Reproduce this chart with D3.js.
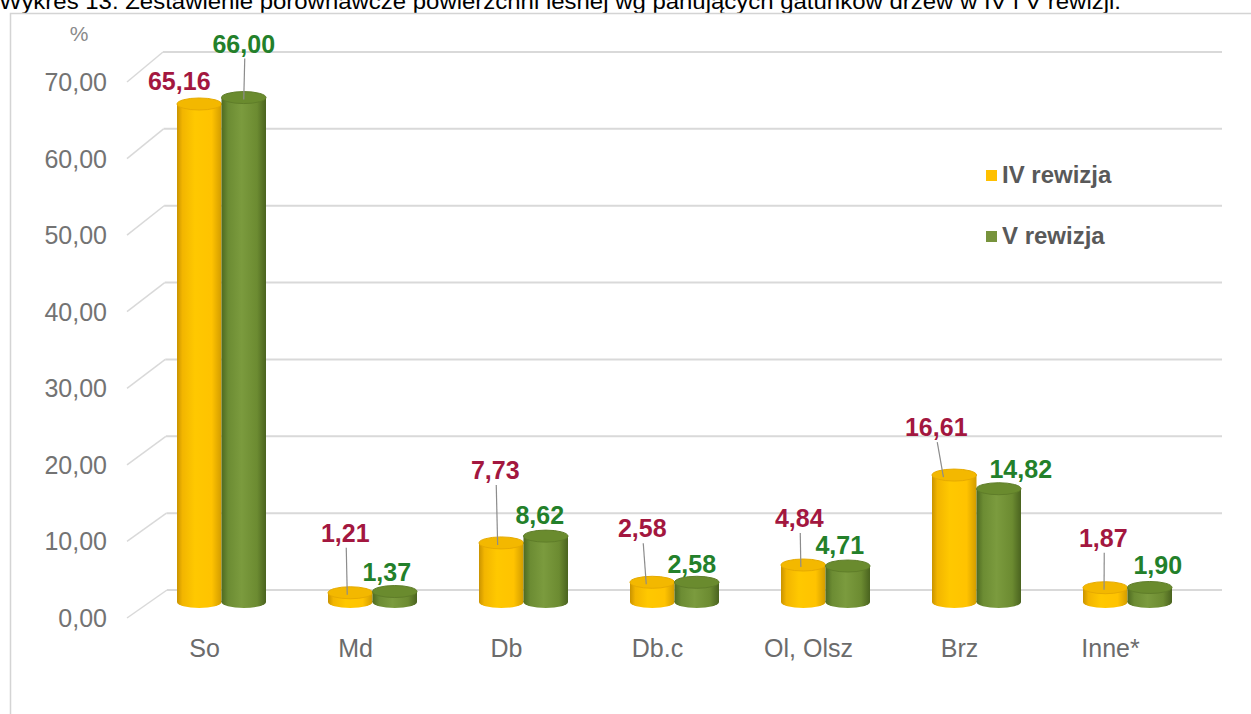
<!DOCTYPE html>
<html>
<head>
<meta charset="utf-8">
<script src="https://cdn.jsdelivr.net/npm/d3@7"></script>
<style>
  html, body { margin: 0; padding: 0; background: #fff; }
  svg { display: block; }
</style>
</head>
<body>
<div id="chart"></div>
<script>
// chart values
const categories = ["So", "Md", "Db", "Db.c", "Ol, Olsz", "Brz", "Inne*"];
const seriesNames = ["IV rewizja", "V rewizja"];
const rewizjaIV = [65.16, 1.21, 7.73, 2.58, 4.84, 16.61, 1.87];
const rewizjaV = [66.00, 1.37, 8.62, 2.58, 4.71, 14.82, 1.90];
const yTicks = [0, 10, 20, 30, 40, 50, 60, 70];
const title = "Wykres 13. Zestawienie porównawcze powierzchni leśnej wg panujących gatunków drzew w IV i V rewizji.";

// hand placed data labels (offset from the bar top, and whether a leader line is drawn)
const labelNudge = [
    [[-20, -23, false], [0, -54, true]],
    [[-5, -60, true], [-8, -20, false]],
    [[-6, -73, true], [-6, -21, false]],
    [[-10, -54, true], [-5, -18, false]],
    [[-4, -47, true], [-8, -21, false]],
    [[-18, -48, true], [22, -20, false]],
    [[-2, -50, true], [8, -22, false]]
];

const width = 1251, height = 714;
const font = "'Liberation Sans', Arial, Helvetica, sans-serif";
const barColors = ["#FFC000", "#77933C"];
const labelColors = ["#A3173F", "#23802A"];

const locale = d3.formatLocale({ decimal: ",", thousands: " ", grouping: [3], currency: ["", ""] });
const fmt = locale.format(".2f");

const svg = d3.select("#chart").append("svg")
    .attr("width", width)
    .attr("height", height)
    .attr("font-family", font);

// gradients for the cylinders
const defs = svg.append("defs");
const gradStops = [
    [["0%", "#C99300"], ["12%", "#F2B500"], ["40%", "#FFC800"], ["78%", "#FFC300"], ["100%", "#D29C00"]],
    [["0%", "#4E6A21"], ["15%", "#6C8C33"], ["45%", "#7B9B3E"], ["80%", "#6C8B31"], ["100%", "#4A631F"]]
];
gradStops.forEach((stops, i) => {
    const g = defs.append("linearGradient").attr("id", "cyl" + i)
        .attr("x1", "0%").attr("x2", "100%").attr("y1", "0%").attr("y2", "0%");
    stops.forEach(s => g.append("stop").attr("offset", s[0]).attr("stop-color", s[1]));
});
const topColors = ["#F3B800", "#6A8B2E"];

// title, cut at the top like in the source
svg.append("text")
    .attr("x", -1)
    .attr("y", 9)
    .attr("font-size", 22)
    .attr("fill", "#000")
    .attr("textLength", 1122)
    .attr("lengthAdjust", "spacingAndGlyphs")
    .text(title);

// chart frame
svg.append("rect")
    .attr("x", 10.5).attr("y", 13.5)
    .attr("width", width + 10).attr("height", height + 10)
    .attr("fill", "none")
    .attr("stroke", "#d4d4d4")
    .attr("stroke-width", 1.5);

// scales: back wall for gridlines, front for tick labels, bar scale
const yWall = d3.scaleLinear().domain([0, 70]).range([590, 52]);
const yFront = d3.scaleLinear().domain([0, 70]).range([618, 82]);
const yBar = d3.scaleLinear().domain([0, 70]).range([602, 67]);
const wallX = d3.scaleLinear().domain([0, 70]).range([167, 163]);

const x = d3.scaleBand().domain(categories).range([146, 1203]);
const xInner = d3.scaleBand().domain(seriesNames).range([-44.5, 44.5]);

// gridlines with the perspective diagonal
const grid = svg.append("g").attr("class", "grid");
grid.selectAll("line.h").data(yTicks).join("line")
    .attr("class", "h")
    .attr("x1", d => wallX(d)).attr("x2", 1222)
    .attr("y1", d => yWall(d)).attr("y2", d => yWall(d))
    .attr("stroke", "#d9d9d9").attr("stroke-width", 2);
grid.selectAll("line.d").data(yTicks).join("line")
    .attr("class", "d")
    .attr("x1", 127).attr("x2", d => wallX(d))
    .attr("y1", d => yFront(d)).attr("y2", d => yWall(d))
    .attr("stroke", "#d9d9d9").attr("stroke-width", 1.5);

// y tick labels
svg.append("g").selectAll("text").data(yTicks).join("text")
    .attr("x", 107)
    .attr("y", d => yFront(d))
    .attr("dy", "0.36em")
    .attr("text-anchor", "end")
    .attr("font-size", 25)
    .attr("fill", "#737373")
    .text(d => fmt(d));

svg.append("text")
    .attr("x", 79).attr("y", 33).attr("dy", "0.36em")
    .attr("text-anchor", "middle")
    .attr("font-size", 21)
    .attr("fill", "#8a8a8a")
    .text("%");

// category labels
svg.append("g").selectAll("text").data(categories).join("text")
    .attr("x", d => x(d) + x.bandwidth() / 2 - 17)
    .attr("y", 657)
    .attr("text-anchor", "middle")
    .attr("font-size", 25)
    .attr("fill", "#6b6b6b")
    .text(d => d);

// bars as cylinders
const barData = [];
categories.forEach((c, i) => {
    [rewizjaIV[i], rewizjaV[i]].forEach((v, s) => {
        barData.push({ cat: c, ci: i, s: s, name: seriesNames[s], value: v });
    });
});
const bw = xInner.bandwidth();
const ry = 6;
const cx = d => x(d.cat) + x.bandwidth() / 2 + xInner(d.name) + bw / 2;

const bars = svg.append("g").attr("class", "bars")
    .selectAll("g").data(barData).join("g");
bars.append("ellipse")
    .attr("cx", cx).attr("cy", yBar(0))
    .attr("rx", bw / 2).attr("ry", ry)
    .attr("fill", d => `url(#cyl${d.s})`);
bars.append("rect")
    .attr("x", d => cx(d) - bw / 2)
    .attr("y", d => yBar(d.value))
    .attr("width", bw)
    .attr("height", d => yBar(0) - yBar(d.value))
    .attr("fill", d => `url(#cyl${d.s})`);
bars.append("ellipse")
    .attr("cx", cx).attr("cy", d => yBar(d.value))
    .attr("rx", bw / 2).attr("ry", ry)
    .attr("fill", d => topColors[d.s])
    .attr("stroke", d => d.s ? "#5f7d29" : "#e6aa00")
    .attr("stroke-width", 1);

// data labels and leader lines
const labels = svg.append("g").attr("class", "labels");
barData.forEach(d => {
    const [dx, dy, leader] = labelNudge[d.ci][d.s];
    const bx = cx(d), by = yBar(d.value);
    const lx = bx + dx, ly = by + dy;
    if (leader) {
        labels.append("line")
            .attr("x1", lx + 1).attr("y1", ly + 15)
            .attr("x2", lx + (bx - lx) * 0.4).attr("y2", by + 2)
            .attr("stroke", "#8c8c8c").attr("stroke-width", 1.2);
    }
    labels.append("text")
        .attr("x", lx).attr("y", ly).attr("dy", "0.36em")
        .attr("text-anchor", "middle")
        .attr("font-size", 25)
        .attr("font-weight", "bold")
        .attr("fill", labelColors[d.s])
        .text(fmt(d.value));
});

// legend
const legend = svg.append("g").attr("class", "legend")
    .selectAll("g").data(seriesNames).join("g")
    .attr("transform", (d, i) => `translate(986, ${175 + i * 61})`);
legend.append("rect")
    .attr("x", 0).attr("y", -5).attr("width", 11).attr("height", 11)
    .attr("fill", (d, i) => barColors[i]);
legend.append("text")
    .attr("x", 16).attr("y", 8)
    .attr("font-size", 24)
    .attr("font-weight", "bold")
    .attr("fill", "#595959")
    .text(d => d);
</script>
</body>
</html>
